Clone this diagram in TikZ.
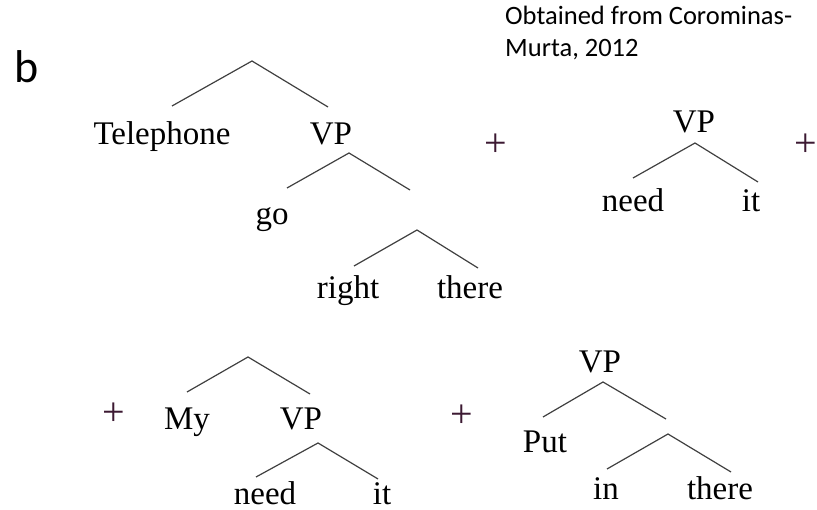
\documentclass[tikz,border=0pt]{standalone}
\usepackage{fontspec}
\setmainfont{Liberation Serif}
\newfontfamily\calib{Carlito}
\definecolor{plusc}{RGB}{60,25,50}
\definecolor{branch}{RGB}{64,64,64}
\begin{document}
\begin{tikzpicture}[x=1pt,y=-1pt,
  word/.style={anchor=base,inner sep=0pt,font=\fontsize{33}{36}\selectfont},
  plus/.style={inner sep=0pt,text=plusc,font=\fontsize{40}{42}\selectfont},
  cite/.style={anchor=base west,inner sep=0pt,font=\calib\fontsize{26.5}{30}\selectfont},
  br/.style={draw=branch,line width=1.2pt}]
\useasboundingbox (0,0) rectangle (817,510);
\node[anchor=base west,inner sep=0pt,font=\calib\fontsize{46}{50}\selectfont] (lab) at (14,83) {b};
\node[cite] (cite1) at (505,25) {Obtained from Corominas-};
\node[cite] (cite2) at (505,57) {Murta, 2012};
% tree 1
\coordinate (a1) at (252,61);
\coordinate (a1l) at (172,106);
\coordinate (a1r) at (328,107);
\node[word] (tel) at (162,145) {Telephone};
\node[word] (vp1) at (331,145) {VP};
\coordinate (a2) at (349,153);
\coordinate (a2l) at (287,188);
\coordinate (a2r) at (410,190);
\node[word] (go) at (272,225) {go};
\coordinate (a3) at (417,230);
\coordinate (a3l) at (354,266);
\coordinate (a3r) at (478,268);
\node[word] (right) at (348,299) {right};
\node[word] (there1) at (470,299) {there};
\draw[br] (a1l) -- (a1) -- (a1r);
\draw[br] (a2l) -- (a2) -- (a2r);
\draw[br] (a3l) -- (a3) -- (a3r);
\node[plus] (p1) at (496,145) {+};
% tree 2
\node[word] (vp2) at (694,133) {VP};
\coordinate (b1) at (695,143);
\coordinate (b1l) at (633,178);
\coordinate (b1r) at (758,182);
\node[word] (need1) at (633,212) {need};
\node[word] (it1) at (751,212) {it};
\draw[br] (b1l) -- (b1) -- (b1r);
\node[plus] (p2) at (806,145) {+};
% tree 3
\node[plus] (p3) at (114,414) {+};
\coordinate (c1) at (248,357);
\coordinate (c1l) at (187,392);
\coordinate (c1r) at (310,394);
\node[word] (my) at (187,430) {My};
\node[word] (vp3) at (301,430) {VP};
\coordinate (c2) at (318,443);
\coordinate (c2l) at (256,477);
\coordinate (c2r) at (378,479);
\node[word] (need2) at (265,504) {need};
\node[word] (it2) at (382,504) {it};
\draw[br] (c1l) -- (c1) -- (c1r);
\draw[br] (c2l) -- (c2) -- (c2r);
% tree 4
\node[plus] (p4) at (462,416) {+};
\node[word] (vp4) at (600,373) {VP};
\coordinate (d1) at (603,382);
\coordinate (d1l) at (543,417);
\coordinate (d1r) at (666,419);
\node[word] (put) at (545,453) {Put};
\coordinate (d2) at (668,434);
\coordinate (d2l) at (607,469);
\coordinate (d2r) at (731,472);
\node[word] (in) at (606,500) {in};
\node[word] (there2) at (720,500) {there};
\draw[br] (d1l) -- (d1) -- (d1r);
\draw[br] (d2l) -- (d2) -- (d2r);
\end{tikzpicture}
\end{document}
